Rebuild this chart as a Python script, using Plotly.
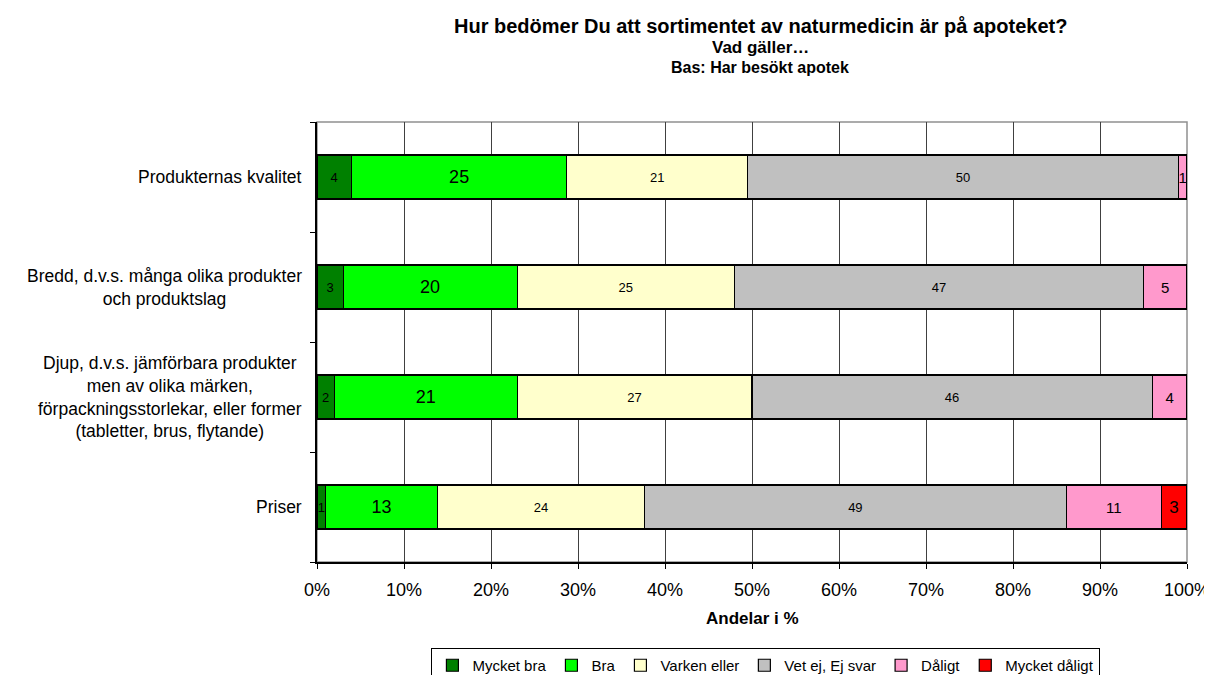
import plotly.graph_objects as go

categories = [
    "Produkternas kvalitet",
    "Bredd, d.v.s. många olika produkter<br>och produktslag",
    "Djup, d.v.s. jämförbara produkter<br>men av olika märken,<br>förpackningsstorlekar, eller former<br>(tabletter, brus, flytande)",
    "Priser",
]
series_names = ["Mycket bra", "Bra", "Varken eller", "Vet ej, Ej svar", "Dåligt", "Mycket dåligt"]
mycket_bra = [4, 3, 2, 1]
bra = [25, 20, 21, 13]
varken = [21, 25, 27, 24]
vet_ej = [50, 47, 46, 49]
daligt = [1, 5, 4, 11]
mycket_daligt = [0, 0, 0, 3]
x_ticks = [0, 10, 20, 30, 40, 50, 60, 70, 80, 90, 100]

values = [mycket_bra, bra, varken, vet_ej, daligt, mycket_daligt]
colors = ["#008000", "#00FF00", "#FFFFCC", "#C0C0C0", "#FF99CC", "#FF0000"]
text_sizes = [13, 18, 13, 13, 15, 17]

FONT = "Liberation Sans, Arial, sans-serif"

# the page body adds an 8px offset; the figure is sized to fit the window
OFF = 8
W, H = 1212 - OFF, 675 - OFF
PL, PT, PW, PH = 317 - OFF, 122 - OFF, 870, 440

fig = go.Figure()
for name, vals, col, ts in zip(series_names, values, colors, text_sizes):
    fig.add_trace(go.Bar(
        name=name, y=categories, x=vals, orientation="h",
        marker=dict(color=col, line=dict(color="black", width=1.2)),
        text=[str(v) if v else "" for v in vals],
        textposition="inside", insidetextanchor="middle", textangle=0,
        constraintext="none",
        textfont=dict(family=FONT, size=ts, color="black"),
        width=0.4,
    ))

fig.update_layout(
    barmode="stack", barnorm="percent",
    width=W, height=H,
    margin=dict(l=PL, r=W - PL - PW, t=PT, b=H - PT - PH, autoexpand=False),
    plot_bgcolor="white", paper_bgcolor="white",
    font=dict(family=FONT, color="black"),
    showlegend=True,
    legend=dict(
        orientation="h", x=0.516, xanchor="center", y=-86 / 440, yanchor="top",
        bordercolor="black", borderwidth=1, font=dict(size=15, family=FONT),
        itemwidth=30, traceorder="normal", itemclick=False,
        tracegroupgap=0,
    ),
)
fig.update_xaxes(
    range=[0, 100], tickvals=x_ticks, ticktext=[f"{t}%" for t in x_ticks],
    showgrid=True, gridcolor="#404040", gridwidth=1,
    showline=True, linecolor="black", linewidth=1.5,
    ticks="outside", ticklen=5, tickcolor="black", ticklabelstandoff=6,
    tickfont=dict(size=18, family=FONT), zeroline=False,
)
fig.update_yaxes(
    categoryorder="array", categoryarray=categories[::-1],
    showticklabels=False, showgrid=False,
    showline=True, linecolor="black", linewidth=1.5,
    ticks="outside", ticklen=5, tickcolor="black", tickson="boundaries",
)

# plot frame (top/right, gray)
fig.add_shape(type="rect", xref="paper", yref="paper", x0=0, x1=1, y0=0, y1=1,
              line=dict(color="#909090", width=1.5), layer="below")

# category labels (centered multi-line blocks)
for cat in categories:
    fig.add_annotation(text=cat, xref="paper", yref="y", x=0, y=cat,
                       xanchor="right", yanchor="middle", xshift=-13,
                       align="center", showarrow=False,
                       font=dict(size=17.5, family=FONT, color="black"))

# titles (positions relative to plot top, in px)
def ty(px):
    return 1 + (122 - px) / 440

fig.add_annotation(text="<b>Hur bedömer Du att sortimentet av naturmedicin är på apoteket?</b>",
                   xref="paper", yref="paper", x=0.5095, y=ty(26), xanchor="center",
                   yanchor="middle", showarrow=False, font=dict(size=20, family=FONT))
fig.add_annotation(text="<b>Vad gäller…</b>",
                   xref="paper", yref="paper", x=0.5095, y=ty(48), xanchor="center",
                   yanchor="middle", showarrow=False, font=dict(size=17, family=FONT))
fig.add_annotation(text="<b>Bas: Har besökt apotek</b>",
                   xref="paper", yref="paper", x=0.5095, y=ty(68), xanchor="center",
                   yanchor="middle", showarrow=False, font=dict(size=16, family=FONT))
fig.add_annotation(text="<b>Andelar i %</b>",
                   xref="paper", yref="paper", x=0.5, y=-56 / 440, xanchor="center",
                   yanchor="middle", showarrow=False, font=dict(size=17, family=FONT))

fig.write_html("out.html")
